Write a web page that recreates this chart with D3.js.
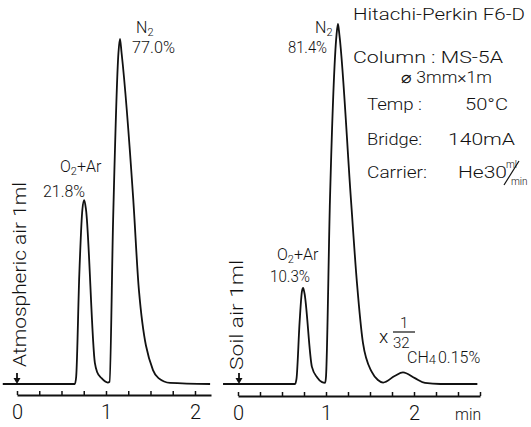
<!DOCTYPE html>
<html><head><meta charset="utf-8">
<script src="https://cdn.jsdelivr.net/npm/d3@7/dist/d3.min.js"></script>
<style>
html,body{margin:0;padding:0;background:#fff;}
svg text{font-family:Roboto,"Liberation Sans",Arial,sans-serif;font-weight:300;fill:#111;}
</style></head>
<body><svg id="c" width="531" height="427"></svg>
<script>
// ---- data: retention time (min) and relative detector response (0-100) ----
const atmTime = [-0.16, 0.65, 0.665, 0.70, 0.735, 0.755, 0.775, 0.875, 0.90, 0.95, 1.02, 1.04, 1.08, 1.14, 1.157, 1.175, 1.307, 1.37, 1.528, 1.59, 1.72, 2.17];
const atmResp = [0, 0, 2, 30, 48, 50.5, 48, 5.8, 3.3, 1.6, 0.4, 0.6, 45, 91, 94.8, 91, 50.5, 25.8, 3.8, 1.6, 0.3, 0];
const soilTime = [-0.17, 0.648, 0.665, 0.70, 0.727, 0.74, 0.755, 0.84, 0.90, 0.955, 0.99, 1.0, 1.045, 1.12, 1.136, 1.152, 1.284, 1.352, 1.42, 1.52, 1.59, 1.65, 1.78, 1.875, 2.01, 2.125, 2.3, 2.72];
const soilResp = [0, 0, 1.5, 17, 25.5, 26.4, 25, 4.7, 1.8, 0.5, 0.3, 2, 50.5, 96, 98.9, 96, 50.5, 27.7, 11.3, 3.3, 1.1, 0.4, 2.2, 3.2, 1.6, 0.3, 0, 0];
const tickValsLeft = [0, 0.25, 0.5, 0.75, 1, 1.25, 1.5, 1.75, 2];
const tickValsRight = [0, 0.25, 0.5, 0.75, 1, 1.25, 1.5, 1.75, 2, 2.25, 2.5, 2.75];
const peakLabelsLeft = [["N", "2", "", 136, 33], ["77.0%", "", "", 132, 53, 43], ["O", "2", "+Ar", 60, 172, 43], ["21.8%", "", "", 43, 197, 42]];
const peakLabelsRight = [["N", "2", "", 315, 33], ["81.4%", "", "", 288, 53, 39], ["O", "2", "+Ar", 277, 260, 48], ["10.3%", "", "", 270, 282, 40]];
const conditions = [
  ["Hitachi-Perkin F6-D", 353, 20, 172],
  ["Column : MS-5A", 353, 63, 150],
  ["\u2300 3mm\u00d71m", 401, 83, 91],
  ["Temp :", 367, 110, 55],
  ["50\u00b0C", 465, 110, 43],
  ["Bridge:", 367, 145, 55],
  ["140mA", 448, 145, 67],
  ["Carrier:", 367, 178, 60],
  ["He30", 458, 178, 49]
];

const svg = d3.select("#c");
const y = d3.scaleLinear().domain([0, 100]).range([384, 20]);
const xL = d3.scaleLinear().domain([0, 2.18]).range([17, 211]);
const xR = d3.scaleLinear().domain([0, 2.75]).range([238, 480]);

function trace(x, ts, rs) {
  const line = d3.line().x(d => x(d[0])).y(d => y(d[1])).curve(d3.curveMonotoneX);
  svg.append("path").datum(d3.zip(ts, rs)).attr("d", line)
    .attr("fill", "none").attr("stroke", "#111").attr("stroke-width", 1.8)
    .attr("stroke-linejoin", "round");
}
trace(xL, atmTime, atmResp);
trace(xR, soilTime, soilResp);

function axis(x, vals, yPos) {
  const a = d3.axisBottom(x).tickValues(vals).tickSizeInner(-4).tickSizeOuter(0).tickPadding(10)
    .tickFormat(d => Number.isInteger(d) ? d : "");
  const g = svg.append("g").attr("transform", `translate(0,${yPos})`).call(a);
  g.select(".domain").attr("stroke", "#111").attr("stroke-width", 2);
  g.selectAll(".tick line").attr("stroke", "#111").attr("stroke-width", 1.5);
  g.selectAll(".tick text").attr("font-size", 20).attr("fill", "#111")
    .style("font-family", "Roboto, Liberation Sans, Arial, sans-serif").style("font-weight", 300);
}
axis(xL, tickValsLeft, 395);
axis(xR, tickValsRight, 396);

// injection arrows
function arrow(x0) {
  svg.append("line").attr("x1", x0).attr("x2", x0).attr("y1", 373).attr("y2", 380)
    .attr("stroke", "#111").attr("stroke-width", 1.8);
  svg.append("path").attr("d", `M${x0 - 3.5},378 L${x0 + 3.5},378 L${x0},384 Z`).attr("fill", "#111");
}
arrow(xL(0));
arrow(xR(0) + 1);

function peakLabel(p) {
  const t = svg.append("text").attr("x", p[3]).attr("y", p[4]).attr("font-size", 16);
  if (p[5] && !p[1]) t.attr("textLength", p[5]).attr("lengthAdjust", "spacingAndGlyphs");
  t.append("tspan").text(p[0]);
  if (p[1]) {
    t.append("tspan").attr("font-size", 11).attr("dy", 3).text(p[1]);
    if (p[2]) t.append("tspan").attr("dy", -3).text(p[2]);
  }
}
peakLabelsLeft.forEach(peakLabel);
peakLabelsRight.forEach(peakLabel);

// sample labels (rotated)
svg.append("text").attr("transform", "translate(26,367) rotate(-90)").attr("font-size", 18)
  .attr("textLength", 185).attr("lengthAdjust", "spacingAndGlyphs").text("Atmospheric air 1ml");
svg.append("text").attr("transform", "translate(243,370) rotate(-90)").attr("font-size", 18)
  .attr("textLength", 110).attr("lengthAdjust", "spacingAndGlyphs").text("Soil air 1ml");

// attenuation and CH4
svg.append("text").attr("x", 379).attr("y", 343).attr("font-size", 19).text("x");
svg.append("text").attr("x", 400).attr("y", 328).attr("font-size", 15).text("1");
svg.append("line").attr("x1", 393).attr("x2", 415).attr("y1", 332).attr("y2", 332).attr("stroke", "#111").attr("stroke-width", 1.2);
svg.append("text").attr("x", 393).attr("y", 348).attr("font-size", 15).text("32");
const ch = svg.append("text").attr("x", 407).attr("y", 363).attr("font-size", 16);
ch.append("tspan").text("CH");
ch.append("tspan").attr("font-size", 13).attr("dy", 1).text("4");
ch.append("tspan").attr("dy", -1).attr("dx", 2).text("0.15%");

svg.append("text").attr("x", 455).attr("y", 420).attr("font-size", 16).attr("textLength", 26)
  .attr("lengthAdjust", "spacingAndGlyphs").text("min");

// operating conditions
conditions.forEach(c => {
  svg.append("text").attr("x", c[1]).attr("y", c[2]).attr("font-size", 16)
    .attr("textLength", c[3]).attr("lengthAdjust", "spacingAndGlyphs").text(c[0]);
});
svg.append("text").attr("x", 506).attr("y", 168).attr("font-size", 10).text("ml");
svg.append("line").attr("x1", 504).attr("x2", 519).attr("y1", 185).attr("y2", 161).attr("stroke", "#111").attr("stroke-width", 1.2);
svg.append("text").attr("x", 511).attr("y", 185).attr("font-size", 10).text("min");
</script></body></html>
